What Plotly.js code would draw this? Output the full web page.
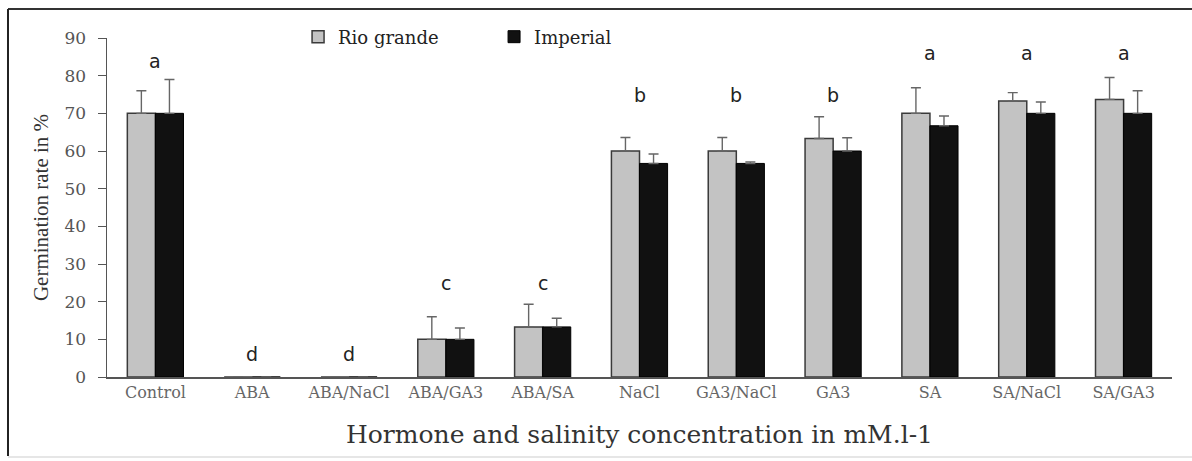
<!DOCTYPE html>
<html>
<head>
<meta charset="utf-8">
<script src="https://cdn.plot.ly/plotly-3.0.1.min.js"></script>
<style>html,body{margin:0;padding:0;background:#fff;}#chart{width:1192px;height:461px;}</style>
</head>
<body>
<div id="chart"></div>
<script>
const categories = ["Control","ABA","ABA/NaCl","ABA/GA3","ABA/SA","NaCl","GA3/NaCl","GA3","SA","SA/NaCl","SA/GA3"];
const rioGrande = [70, 0, 0, 10, 13.3, 60, 60, 63.3, 70, 73.3, 73.7];
const rioGrandeErr = [6, 0, 0, 6, 6, 3.6, 3.6, 5.8, 6.8, 2.2, 5.8];
const imperial = [70, 0, 0, 10, 13.3, 56.7, 56.7, 60, 66.7, 70, 70];
const imperialErr = [9, 0, 0, 3, 2.3, 2.5, 0.4, 3.5, 2.6, 3, 6];
const letters = ["a","d","d","c","c","b","b","b","a","a","a"];
const letterY = [84, 6, 6, 25, 25, 75, 75, 75, 86, 86, 86];

const serifWide = "DejaVu Serif, serif";
const serif = "Liberation Serif, Times New Roman, serif";

const traces = [
  {type:"bar", name:"Rio grande", x:categories, y:rioGrande,
   marker:{color:"#c3c3c3", line:{color:"#3a3a3a", width:1.5}},
   error_y:{type:"data", array:rioGrandeErr, arrayminus:rioGrande.map(()=>0), symmetric:false, color:"#666", thickness:1.4, width:5}},
  {type:"bar", name:"Imperial", x:categories, y:imperial,
   marker:{color:"#111111", line:{color:"#000", width:1}},
   error_y:{type:"data", array:imperialErr, arrayminus:imperial.map(()=>0), symmetric:false, color:"#666", thickness:1.4, width:5}}
];

const annotations = categories.map((c,i)=>({
  x:c, y:letterY[i], xref:"x", yref:"y", text:letters[i], showarrow:false,
  font:{family:"DejaVu Sans, sans-serif", size:19, color:"#222"}
}));

const layout = {
  width:1192, height:461,
  margin:{l:107, r:20, t:38, b:84},
  paper_bgcolor:"#fff", plot_bgcolor:"#fff",
  barmode:"group", bargap:0.42, bargroupgap:0,
  showlegend:true,
  legend:{orientation:"h", x:0.1794, y:1.003, xanchor:"left", yanchor:"middle",
          font:{family:serifWide, size:18, color:"#222"}, traceorder:"normal",
          entrywidth:151, itemwidth:30, bgcolor:"rgba(0,0,0,0)"},
  xaxis:{showline:true, linecolor:"#555", linewidth:1.5, ticks:"", showgrid:false, zeroline:false,
         tickfont:{family:serifWide, size:16, color:"#666"},
         title:{text:"Hormone and salinity concentration in mM.l-1", font:{family:serifWide, size:25, color:"#333"}, standoff:25}},
  yaxis:{range:[0,90], dtick:10, showline:true, linecolor:"#555", linewidth:1.5, ticks:"outside", ticklen:8,
         tickcolor:"#555", showgrid:false, zeroline:false, ticklabelstandoff:8,
         tickfont:{family:serifWide, size:17, color:"#555"},
         title:{text:"Germination rate in %", font:{family:serif, size:21, color:"#333"}, standoff:10}},
  annotations:annotations,
  shapes:[
    {type:"line", xref:"paper", yref:"paper", x0:-0.09296, x1:1.1, y0:1.0855, y1:1.0855, line:{color:"#333", width:2}},
    {type:"line", xref:"paper", yref:"paper", x0:-0.09296, x1:-0.09296, y0:-0.233, y1:1.0855, line:{color:"#222", width:2}},
    {type:"line", xref:"paper", yref:"paper", x0:-0.09296, x1:1.1, y0:-0.236, y1:-0.236, line:{color:"#e6e6e6", width:2}}
  ]
};

Plotly.newPlot("chart", traces, layout, {displayModeBar:false, staticPlot:true});
</script>
</body>
</html>
